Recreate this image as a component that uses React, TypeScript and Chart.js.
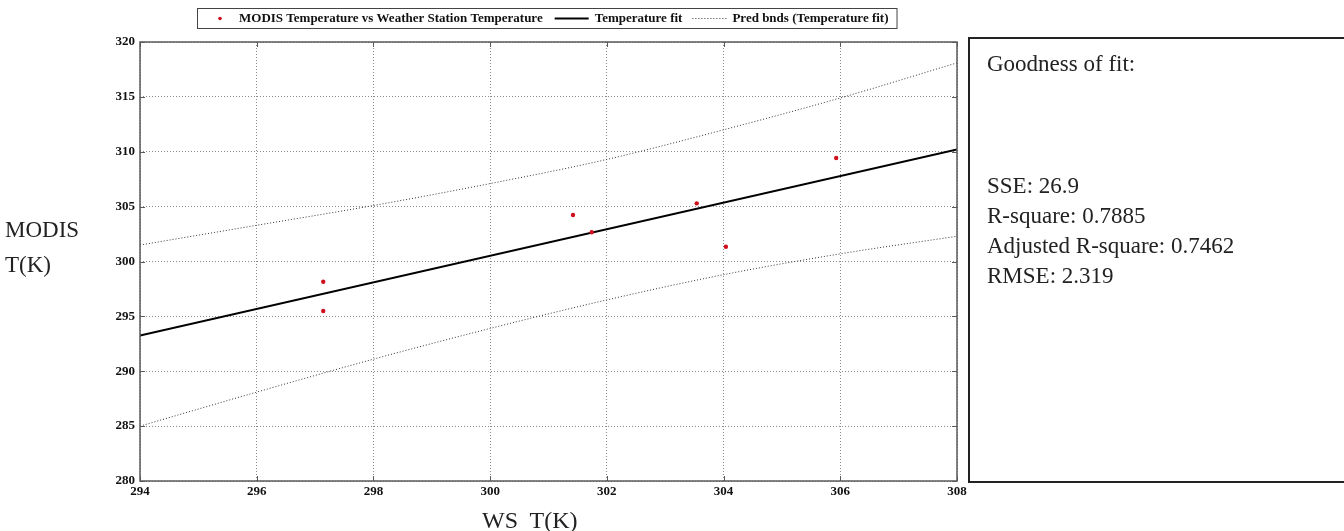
import React, { useEffect, useRef } from "react";
import { Chart, registerables } from "chart.js";

Chart.register(...registerables);

// ---- data ----
const wsTemp = [297.14, 297.14, 301.42, 301.74, 303.54, 304.04, 305.93];
const modisTemp = [298.16, 295.49, 304.24, 302.66, 305.3, 301.35, 309.43];

const fitX = [294, 308];
const fitY = [293.25, 310.2];

const bandX = [294, 296, 298, 300, 302, 304, 306, 308];
const upperBand = [301.5, 303.3, 305.1, 307.1, 309.3, 312.0, 314.9, 318.1];
const lowerBand = [285.0, 288.1, 291.1, 293.9, 296.5, 298.8, 300.7, 302.3];

const xRange = [294, 308];
const yRange = [280, 320];
const xStep = 2;
const yStep = 5;

const legendLabels = [
  "MODIS Temperature vs Weather Station Temperature",
  "Temperature fit",
  "Pred bnds (Temperature fit)",
];
const statsTitle = "Goodness of fit:";
const statsLines = ["SSE: 26.9", "R-square: 0.7885", "Adjusted R-square: 0.7462", "RMSE: 2.319"];
const yTitle = ["MODIS", "T(K)"];
const xTitle = "WS  T(K)";

const POINT_RED = "#d0101c";
const FRAME = "#5a5a5a";
const SERIF = '"Liberation Serif", "Times New Roman", serif';

const legendPlugin = {
  id: "boxLegend",
  afterDraw(chart: any) {
    const ctx = chart.ctx as CanvasRenderingContext2D;
    const ca = chart.chartArea;
    ctx.save();
    ctx.font = `bold 13px ${SERIF}`;
    const w = legendLabels.map((t) => ctx.measureText(t).width);
    const lead = 42;
    const sample = 34;
    const total = lead + w[0] + 12 + sample + 6 + w[1] + 10 + sample + 6 + w[2] + 8;
    const left = Math.round((ca.left + ca.right) / 2 - total / 2) - 2;
    const top = 8;
    const h = 20;
    const cy = top + h / 2 + 0.5;
    ctx.fillStyle = "#fff";
    ctx.fillRect(left, top, total, h);
    ctx.strokeStyle = "#444";
    ctx.lineWidth = 1;
    ctx.strokeRect(left + 0.5, top + 0.5, total, h);
    // item 1: point
    ctx.fillStyle = POINT_RED;
    ctx.beginPath();
    ctx.arc(left + 23, cy, 1.8, 0, Math.PI * 2);
    ctx.fill();
    ctx.fillStyle = "#111";
    ctx.textBaseline = "middle";
    ctx.textAlign = "left";
    let x = left + lead;
    ctx.fillText(legendLabels[0], x, cy);
    x += w[0] + 12;
    // item 2: solid line
    ctx.strokeStyle = "#000";
    ctx.lineWidth = 2;
    ctx.beginPath();
    ctx.moveTo(x, cy);
    ctx.lineTo(x + sample, cy);
    ctx.stroke();
    x += sample + 6;
    ctx.fillText(legendLabels[1], x, cy);
    x += w[1] + 10;
    // item 3: dotted line
    ctx.strokeStyle = "#333";
    ctx.lineWidth = 1;
    ctx.setLineDash([1, 2]);
    ctx.beginPath();
    ctx.moveTo(x, cy);
    ctx.lineTo(x + sample, cy);
    ctx.stroke();
    ctx.setLineDash([]);
    x += sample + 6;
    ctx.fillText(legendLabels[2], x, cy);
    ctx.restore();
  },
};

const framePlugin = {
  id: "matlabFrame",
  afterDraw(chart: any) {
    const ctx = chart.ctx as CanvasRenderingContext2D;
    const { left, right, top, bottom } = chart.chartArea;
    const xs = chart.scales.x;
    const ys = chart.scales.y;
    ctx.save();
    ctx.strokeStyle = FRAME;
    ctx.lineWidth = 1.5;
    ctx.strokeRect(left, top, right - left, bottom - top);
    ctx.lineWidth = 1;
    const tl = 5;
    ctx.beginPath();
    xs.ticks.forEach((t: any) => {
      const px = Math.round(xs.getPixelForValue(t.value)) + 0.5;
      ctx.moveTo(px, bottom);
      ctx.lineTo(px, bottom - tl);
      ctx.moveTo(px, top);
      ctx.lineTo(px, top + tl);
    });
    ys.ticks.forEach((t: any) => {
      const py = Math.round(ys.getPixelForValue(t.value)) + 0.5;
      ctx.moveTo(left, py);
      ctx.lineTo(left + tl, py);
      ctx.moveTo(right, py);
      ctx.lineTo(right - tl, py);
    });
    ctx.stroke();
    ctx.restore();
  },
};

export default function App() {
  const canvasRef = useRef<HTMLCanvasElement | null>(null);

  useEffect(() => {
    document.body.style.margin = "0";
    document.body.style.overflow = "hidden";
    const canvas = canvasRef.current;
    if (!canvas) return;
    const points = wsTemp.map((x, i) => ({ x, y: modisTemp[i] }));
    const fit = fitX.map((x, i) => ({ x, y: fitY[i] }));
    const upper = bandX.map((x, i) => ({ x, y: upperBand[i] }));
    const lower = bandX.map((x, i) => ({ x, y: lowerBand[i] }));

    const tickFont = { family: SERIF, size: 13, weight: "bold" as const };

    const chart = new Chart(canvas, {
      type: "scatter",
      data: {
        datasets: [
          {
            label: legendLabels[0],
            data: points,
            pointRadius: 2.2,
            pointBackgroundColor: POINT_RED,
            pointBorderColor: POINT_RED,
            pointBorderWidth: 0,
            showLine: false,
          },
          {
            label: legendLabels[1],
            data: fit,
            showLine: true,
            borderColor: "#000",
            borderWidth: 2,
            pointRadius: 0,
          },
          {
            label: legendLabels[2],
            data: upper,
            showLine: true,
            borderColor: "#333",
            borderWidth: 1,
            borderDash: [1, 2],
            cubicInterpolationMode: "monotone",
            pointRadius: 0,
          },
          {
            label: legendLabels[2] + " ",
            data: lower,
            showLine: true,
            borderColor: "#333",
            borderWidth: 1,
            borderDash: [1, 2],
            cubicInterpolationMode: "monotone",
            pointRadius: 0,
          },
        ],
      },
      options: {
        animation: false,
        responsive: false,
        devicePixelRatio: 1,
        layout: { padding: { left: 0, top: 42, right: 387, bottom: 0 } },
        plugins: {
          legend: { display: false },
          tooltip: { enabled: false },
          title: { display: false },
        },
        scales: {
          x: {
            type: "linear",
            min: xRange[0],
            max: xRange[1],
            ticks: { stepSize: xStep, padding: 3, color: "#111", font: tickFont, maxRotation: 0 },
            grid: { color: "#8a8a8a", lineWidth: 1, drawTicks: false },
            border: { display: false, dash: [1, 2] },
            afterFit: (s: any) => {
              s.height = 50;
            },
          },
          y: {
            type: "linear",
            min: yRange[0],
            max: yRange[1],
            ticks: { stepSize: yStep, padding: 5, color: "#111", font: tickFont },
            grid: { color: "#8a8a8a", lineWidth: 1, drawTicks: false },
            border: { display: false, dash: [1, 2] },
            afterFit: (s: any) => {
              s.width = 140;
            },
          },
        },
      },
      plugins: [legendPlugin, framePlugin],
    });
    return () => chart.destroy();
  }, []);

  const textStyle: React.CSSProperties = {
    position: "absolute",
    fontFamily: SERIF,
    color: "#222",
    whiteSpace: "pre",
    lineHeight: 1,
  };

  return (
    <div style={{ position: "absolute", left: 0, top: 0, width: 1344, height: 531, overflow: "hidden", background: "#fff" }}>
      <canvas ref={canvasRef} width={1344} height={531} style={{ position: "absolute", left: 0, top: 0 }} />
      <div style={{ ...textStyle, left: 5, top: 212, fontSize: 23, lineHeight: "35px" }}>
        {yTitle[0]}
        <br />
        {yTitle[1]}
      </div>
      <div style={{ ...textStyle, left: 482, top: 508, fontSize: 24 }}>{xTitle}</div>
      <div
        style={{
          position: "absolute",
          left: 968,
          top: 37,
          width: 400,
          height: 446,
          border: "2px solid #222",
          boxSizing: "border-box",
        }}
      >
        <div style={{ ...textStyle, left: 17, top: 13, fontSize: 23 }}>{statsTitle}</div>
        {statsLines.map((s, i) => (
          <div key={s} style={{ ...textStyle, left: 17, top: 135 + i * 30, fontSize: 23 }}>
            {s}
          </div>
        ))}
      </div>
    </div>
  );
}
